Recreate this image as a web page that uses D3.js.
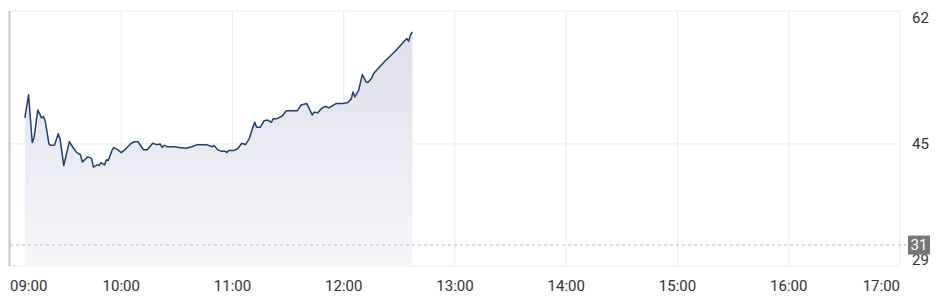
<!DOCTYPE html>
<html>
<head>
<meta charset="utf-8">
<script src="https://cdn.jsdelivr.net/npm/d3@7"></script>
<style>
  body { margin: 0; background: #fff; }
  svg text { font-family: Roboto, "Noto Sans", sans-serif; }
</style>
</head>
<body>
<script>
// intraday prices (time, value)
var times = ["09:08","09:10","09:12","09:13","09:15","09:17","09:18","09:19","09:21","09:22",
  "09:24","09:26","09:27","09:29","09:32","09:34","09:36","09:38","09:39","09:42",
  "09:44","09:45","09:47","09:48","09:49","09:51","09:52","09:53","09:55","09:56",
  "09:58","10:00","10:02","10:05","10:07","10:09","10:12","10:14","10:17","10:19",
  "10:21","10:22","10:23","10:25","10:29","10:31","10:35","10:38","10:41","10:46",
  "10:49","10:50","10:52","10:54","10:56","10:57","10:58","11:01","11:03","11:05",
  "11:07","11:09","11:11","11:12","11:13","11:15","11:17","11:19","11:21","11:22",
  "11:24","11:27","11:29","11:33","11:35","11:37","11:40","11:41","11:43","11:44",
  "11:46","11:48","11:50","11:52","11:54","11:56","11:59","12:02","12:04","12:05",
  "12:06","12:08","12:10","12:12","12:13","12:15","12:16","12:22","12:28","12:34",
  "12:35","12:36","12:37"];
var prices = [48.6,51.8,45.2,45.9,49.7,48.6,48.8,48.2,45.0,44.8,
  44.8,46.4,45.7,42.0,45.3,44.5,43.8,43.5,42.5,43.2,
  43.0,41.8,42.1,42.0,42.4,42.1,42.8,42.7,44.1,44.5,
  44.2,43.8,44.2,45.0,45.3,45.3,44.2,44.2,45.1,44.9,
  45.0,44.5,44.8,44.6,44.6,44.5,44.4,44.6,44.9,44.9,
  44.6,44.8,44.2,44.0,44.0,43.8,44.1,44.1,44.4,45.1,
  44.9,45.7,47.3,48.0,47.3,47.3,48.2,48.3,48.0,48.5,
  48.5,48.9,49.6,49.6,49.6,50.4,50.6,50.1,49.0,49.4,
  49.3,49.9,50.2,50.0,50.3,50.6,50.6,50.7,51.2,52.2,
  51.5,52.4,54.6,53.6,53.5,54.1,54.7,56.4,57.9,59.6,
  59.2,60.1,60.5];
var xTicks = ["09:00","10:00","11:00","12:00","13:00","14:00","15:00","16:00","17:00"];
var yTicks = [62, 45, 29];
var refValue = 31;

var width = 945, height = 305;
var plotLeft = 10, plotRight = 900, plotTop = 11, plotBottom = 266;

var parse = d3.timeParse("%H:%M");
var data = times.map(function(t, i) { return { t: parse(t), v: prices[i] }; });

var svg = d3.select("body").append("svg")
  .attr("width", width)
  .attr("height", height);

var x = d3.scaleTime()
  .domain([parse("09:00"), parse("17:00")])
  .range([plotLeft, plotRight]);

var y = d3.scaleLinear()
  .domain([28.1, 63.4])
  .range([plotBottom, plotTop]);

// frame + grid
svg.append("rect")
  .attr("x", plotLeft).attr("y", plotTop)
  .attr("width", plotRight - plotLeft).attr("height", plotBottom - plotTop)
  .attr("fill", "none").attr("stroke", "#ebebeb").attr("stroke-width", 1);

svg.selectAll("line.vgrid")
  .data(xTicks.slice(1, -1))
  .enter().append("line")
  .attr("class", "vgrid")
  .attr("x1", function(d) { return x(parse(d)); })
  .attr("x2", function(d) { return x(parse(d)); })
  .attr("y1", plotTop).attr("y2", plotBottom)
  .attr("stroke", "#ebebeb").attr("stroke-width", 1);

svg.append("line")
  .attr("x1", plotLeft).attr("x2", plotRight)
  .attr("y1", y(45)).attr("y2", y(45))
  .attr("stroke", "#ebebeb").attr("stroke-width", 1);

// area gradient
var grad = svg.append("defs").append("linearGradient")
  .attr("id", "fillGrad")
  .attr("gradientUnits", "userSpaceOnUse")
  .attr("x1", 0).attr("x2", 0)
  .attr("y1", y(61)).attr("y2", plotBottom);
grad.append("stop").attr("offset", 0).attr("stop-color", "#dedeed");
grad.append("stop").attr("offset", 1).attr("stop-color", "#f6f6fa");

var area = d3.area()
  .x(function(d) { return x(d.t); })
  .y0(plotBottom)
  .y1(function(d) { return y(d.v); });

svg.append("path")
  .datum(data)
  .attr("d", area)
  .attr("fill", "url(#fillGrad)");

var line = d3.line()
  .x(function(d) { return x(d.t); })
  .y(function(d) { return y(d.v); });

svg.append("path")
  .datum(data)
  .attr("d", line)
  .attr("fill", "none")
  .attr("stroke", "#1e3f6f")
  .attr("stroke-width", 1.5)
  .attr("stroke-linejoin", "round");

// left axis line
svg.append("line")
  .attr("x1", plotLeft - 0.5).attr("x2", plotLeft - 0.5)
  .attr("y1", plotTop).attr("y2", plotBottom)
  .attr("stroke", "#c8c8c8").attr("stroke-width", 2);

// reference dashed line
svg.append("line")
  .attr("x1", plotLeft).attr("x2", 908)
  .attr("y1", y(refValue)).attr("y2", y(refValue))
  .attr("stroke", "#bdbdbd").attr("stroke-width", 1)
  .attr("stroke-dasharray", "3,3");

// y labels
svg.selectAll("text.ylab")
  .data(yTicks)
  .enter().append("text")
  .attr("class", "ylab")
  .attr("x", 912)
  .attr("y", function(d) { return y(d); })
  .attr("dy", function(d) { return d == 62 ? "0.15em" : "0.35em"; })
  .attr("font-size", 15)
  .attr("fill", "#333")
  .text(function(d) { return d; });

// ref badge
svg.append("rect")
  .attr("x", 908).attr("y", y(refValue) - 9.5)
  .attr("width", 22).attr("height", 19)
  .attr("fill", "#777");
svg.append("text")
  .attr("x", 919).attr("y", y(refValue))
  .attr("dy", "0.35em")
  .attr("text-anchor", "middle")
  .attr("font-size", 15)
  .attr("fill", "#fff")
  .text(refValue);

// x labels
svg.selectAll("text.xlab")
  .data(xTicks)
  .enter().append("text")
  .attr("class", "xlab")
  .attr("x", function(d) { return x(parse(d)); })
  .attr("y", 291)
  .attr("text-anchor", function(d, i) {
    return i == 0 ? "start" : (i == xTicks.length - 1 ? "end" : "middle");
  })
  .attr("font-size", 15)
  .attr("fill", "#333")
  .text(function(d) { return d; });
</script>
</body>
</html>
